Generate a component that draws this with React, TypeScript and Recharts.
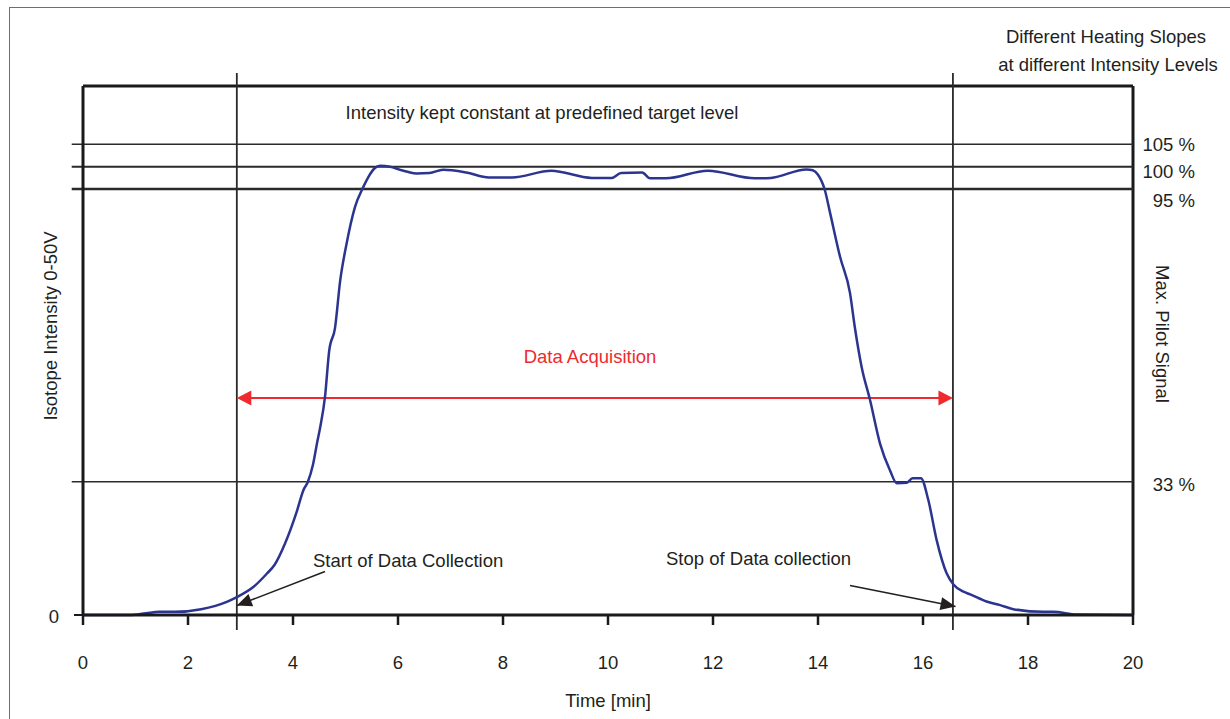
import React from 'react';
import { LineChart, Line, XAxis, YAxis, ReferenceLine } from 'recharts';

// time in minutes, intensity in % of the target level
const times = [
  0, 0.9, 1.2, 1.45, 1.75, 2.25, 2.75, 2.93, 3.25, 3.5, 3.65, 3.85, 4.07, 4.2, 4.28, 4.38, 4.46, 4.52,
  4.61, 4.69, 4.8, 4.9, 5.01, 5.18, 5.34, 5.44, 5.55, 5.66, 5.85, 6.04, 6.2, 6.35, 6.6, 6.86, 7.3,
  7.73, 8.17, 8.92, 9.69, 10.07, 10.25, 10.65, 10.8, 11.1, 11.9, 12.8, 13.1, 13.78, 13.9, 14.0,
  14.13, 14.23, 14.42, 14.61, 14.7, 14.83, 14.99, 15.18, 15.37, 15.5, 15.69, 15.8, 15.96, 16.1,
  16.26, 16.45, 16.58, 16.77, 16.9, 17.21, 17.47, 17.72, 18.29, 18.48, 18.93, 20,
];
const intensity = [
  0, 0, 0.4, 0.7, 0.7, 1.3, 3.0, 4.0, 6.3, 9.2, 11.2, 16, 23, 27.9, 29.6, 33.5, 38.5, 42,
  48.7, 59, 64, 74.7, 82.2, 91, 95.5, 97.8, 99.6, 100.2, 100, 99.3, 98.8, 98.5, 98.6, 99.3, 98.7,
  97.6, 97.6, 99.1, 97.5, 97.5, 98.6, 98.7, 97.4, 97.4, 99.1, 97.4, 97.5, 99.4, 99.2, 98.2,
  94.8, 89.7, 79.9, 71.8, 64.3, 55.4, 48, 38.3, 32.3, 29.4, 29.5, 30.5, 30.5, 25.7,
  16.7, 9.3, 6.8, 5.2, 4.6, 3.0, 2.2, 1.3, 0.7, 0.7, 0.1, 0,
];

const xTicks = [0, 2, 4, 6, 8, 10, 12, 14, 16, 18, 20];
const yTicks = [0];

const levelValues = [105, 100, 95, 29.7];
const levelLabels = ['105 %', '100 %', '95 %', '33 %'];
const levelLabelDy = [7, 11, 18, 9];
const levelWidths = [1.5, 2, 2.5, 1.5];

const collectionTimes = [2.93, 16.57];
const acquisitionLevel = 48.4;
const startArrow = [{ x: 4.61, y: 9.7 }, { x: 2.93, y: 2.1 }];
const stopArrow = [{ x: 14.61, y: 6.6 }, { x: 16.62, y: 1.9 }];

const data = times.map((t, i) => ({ t, v: intensity[i] }));

const FONT = '"Liberation Sans", Arial, sans-serif';
const FS = 18.5;
const INK = '#231f20';
const RED = '#ee2a2f';
const BLUE = '#2b3590';

function headPoints(x1: number, y1: number, x2: number, y2: number, len: number, half: number) {
  const d = Math.hypot(x2 - x1, y2 - y1) || 1;
  const ux = (x2 - x1) / d;
  const uy = (y2 - y1) / d;
  const bx = x2 - ux * len;
  const by = y2 - uy * len;
  return `${x2},${y2} ${bx - uy * half},${by + ux * half} ${bx + uy * half},${by - ux * half}`;
}

const DoubleArrow = (p: any) => {
  const { x1, y1, x2, y2 } = p;
  return (
    <g>
      <line x1={x1 + 10} y1={y1} x2={x2 - 10} y2={y2} stroke={RED} strokeWidth={2} />
      <polygon points={headPoints(x2, y2, x1, y1, 14.5, 7.5)} fill={RED} />
      <polygon points={headPoints(x1, y1, x2, y2, 14.5, 7.5)} fill={RED} />
    </g>
  );
};

const BlackArrow = (p: any) => {
  const { x1, y1, x2, y2 } = p;
  return (
    <g>
      <line x1={x1} y1={y1} x2={x2} y2={y2} stroke={INK} strokeWidth={1.5} />
      <polygon points={headPoints(x1, y1, x2, y2, 15, 6.5)} fill={INK} />
    </g>
  );
};

const XTick = ({ x, y, payload }: any) => (
  <text x={x} y={y} dy={42} textAnchor="middle" fill={INK} fontSize={FS}>
    {payload.value}
  </text>
);

const YTick = ({ x, y, payload }: any) => (
  <text x={x - 13} y={y} dy={8} textAnchor="end" fill={INK} fontSize={FS}>
    {payload.value}
  </text>
);

export default function App() {
  return (
    <div
      style={{
        position: 'absolute',
        left: 0,
        top: 0,
        width: 1230,
        height: 719,
        overflow: 'hidden',
        background: '#fff',
        fontFamily: FONT,
      }}
    >
      <div
        style={{
          position: 'absolute',
          left: 9,
          top: 7,
          width: 1260,
          height: 760,
          borderLeft: '1.5px solid #6d6e71',
          borderTop: '1.5px solid #6d6e71',
        }}
      />
      <LineChart
        width={1230}
        height={719}
        data={data}
        margin={{ top: 86, right: 97, bottom: 0, left: 0 }}
        style={{ position: 'absolute', left: 0, top: 0 }}
      >
        <XAxis
          dataKey="t"
          type="number"
          domain={[0, 20]}
          ticks={xTicks}
          height={104}
          stroke="#1a1a1a"
          strokeWidth={3}
          tickSize={10}
          tickLine={{ stroke: '#1a1a1a', strokeWidth: 2.5 }}
          tick={<XTick />}
          label={{ value: 'Time [min]', position: 'insideBottom', offset: 12, fill: INK, fontSize: FS }}
        />
        <YAxis
          type="number"
          domain={[0, 118]}
          ticks={yTicks}
          width={83}
          stroke="#1a1a1a"
          strokeWidth={3}
          tickSize={9}
          tickLine={{ stroke: '#1a1a1a', strokeWidth: 2 }}
          tick={<YTick />}
        />
        <ReferenceLine y={118} stroke="#1a1a1a" strokeWidth={3} />
        <ReferenceLine x={20} stroke="#1a1a1a" strokeWidth={3} />
        {levelValues.map((v, i) => (
          <ReferenceLine
            key={levelLabels[i]}
            segment={[{ x: -0.215, y: v }, { x: 20, y: v }]}
            ifOverflow="visible"
            stroke="#2a2a2a"
            strokeWidth={levelWidths[i]}
            label={(lp: any) => {
              const vb = lp.viewBox || {};
              return (
                <text
                  x={vb.x + vb.width + 62}
                  y={vb.y}
                  dy={levelLabelDy[i]}
                  textAnchor="end"
                  fill={INK}
                  fontSize={FS}
                >
                  {levelLabels[i]}
                </text>
              );
            }}
          />
        ))}
        {collectionTimes.map((t) => (
          <ReferenceLine
            key={t}
            segment={[{ x: t, y: -3.35 }, { x: t, y: 120.9 }]}
            ifOverflow="visible"
            stroke="#2a2a2a"
            strokeWidth={1.8}
          />
        ))}
        <ReferenceLine
          segment={[{ x: collectionTimes[0], y: acquisitionLevel }, { x: collectionTimes[1], y: acquisitionLevel }]}
          ifOverflow="visible"
          shape={DoubleArrow}
        />
        <ReferenceLine segment={startArrow} ifOverflow="visible" shape={BlackArrow} />
        <ReferenceLine segment={stopArrow} ifOverflow="visible" shape={BlackArrow} />
        <Line
          dataKey="v"
          type="monotone"
          stroke={BLUE}
          strokeWidth={2.5}
          dot={false}
          activeDot={false}
          isAnimationActive={false}
        />
        <text x={542} y={119} textAnchor="middle" fill={INK} fontSize={FS}>
          Intensity kept constant at predefined target level
        </text>
        <text x={1106} y={43} textAnchor="middle" fill={INK} fontSize={FS}>
          Different Heating Slopes
        </text>
        <text x={1108} y={71} textAnchor="middle" fill={INK} fontSize={FS}>
          at different Intensity Levels
        </text>
        <text x={590} y={363} textAnchor="middle" fill={RED} fontSize={FS}>
          Data Acquisition
        </text>
        <text x={313} y={567} fill={INK} fontSize={FS}>
          Start of Data Collection
        </text>
        <text x={666} y={565} fill={INK} fontSize={FS}>
          Stop of Data collection
        </text>
        <text x={57} y={326} transform="rotate(-90 57 326)" textAnchor="middle" fill={INK} fontSize={FS}>
          Isotope Intensity 0-50V
        </text>
        <text x={1156} y={334} transform="rotate(90 1156 334)" textAnchor="middle" fill={INK} fontSize={FS}>
          Max. Pilot Signal
        </text>
      </LineChart>
    </div>
  );
}
